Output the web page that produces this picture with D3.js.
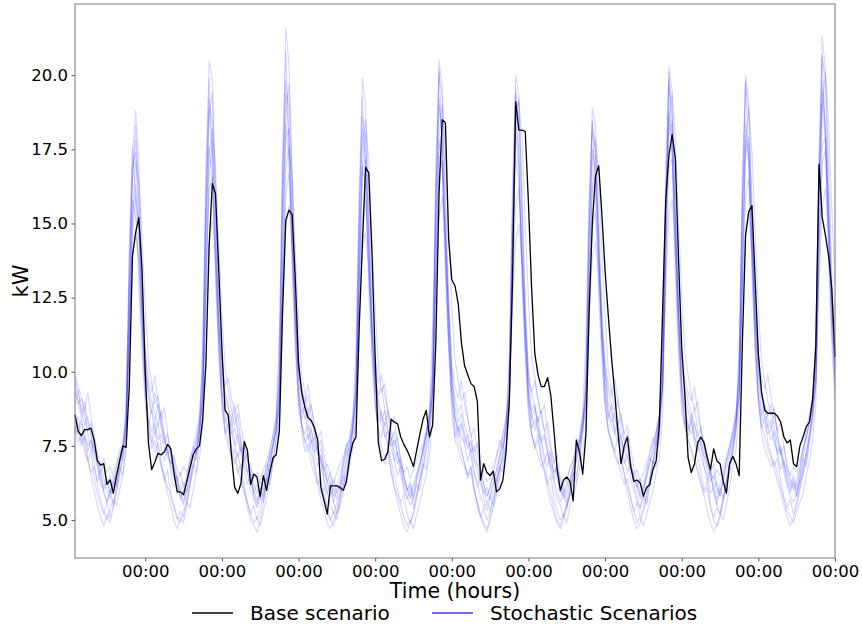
<!DOCTYPE html>
<html>
<head>
<meta charset="utf-8">
<script src="https://cdn.jsdelivr.net/npm/d3@7"></script>
<style>
  body { margin: 0; background: #fff; }
  svg { display: block; font-family: "DejaVu Sans", sans-serif; }
</style>
</head>
<body>
<svg id="chart" width="862" height="628"></svg>
<script>
// hours relative to the first midnight; one reading per hour
const hours = d3.range(-22, 217);
const dayTicks = d3.range(0, 217, 24);
const yTicks = [5, 7.5, 10, 12.5, 15, 17.5, 20];

const baseScenario = [
  8.55, 8.0, 7.85, 8.05, 8.05, 8.1, 7.7, 7.0, 6.85, 6.9, 6.2, 6.35, 5.9, 6.5, 7.0, 7.5, 7.45, 9.5, 13.9, 14.7, 15.2, 13.4,
  10.0, 7.6, 6.7, 6.95, 7.25, 7.2, 7.3, 7.55, 7.4, 6.6, 5.95, 5.95, 5.85, 6.3, 6.75, 7.2, 7.4, 7.5, 8.4, 10.3, 14.2, 16.35, 16.0, 13.5,
  10.8, 8.7, 8.55, 7.2, 6.1, 5.9, 6.25, 7.65, 7.35, 6.2, 6.55, 6.45, 5.8, 6.5, 6.0, 6.6, 7.1, 7.2, 8.0, 12.0, 15.1, 15.45, 15.3, 13.1,
  10.3, 9.3, 8.8, 8.45, 8.35, 8.1, 7.7, 6.1, 5.65, 5.2, 6.15, 6.15, 6.15, 6.1, 6.0, 6.3, 7.1, 7.6, 7.8, 11.5, 14.3, 16.9, 16.7, 14.0,
  10.5, 7.6, 7.0, 7.05, 7.3, 8.4, 8.3, 8.25, 7.8, 7.55, 7.35, 7.1, 6.8, 7.35, 7.9, 8.4, 8.7, 7.8, 8.2, 11.0, 16.0, 18.5, 18.4, 14.5,
  13.1, 12.9, 12.3, 11.0, 10.2, 9.9, 9.6, 9.5, 9.0, 6.35, 6.9, 6.6, 6.5, 6.65, 5.95, 6.05, 6.35, 7.3, 9.0, 13.0, 19.1, 18.15, 18.15, 18.1,
  15.7, 12.8, 10.6, 9.9, 9.5, 9.5, 9.8, 9.2, 8.0, 6.7, 6.0, 6.35, 6.45, 6.3, 5.65, 7.7, 7.3, 6.55, 7.9, 12.0, 15.0, 16.6, 16.95, 15.3,
  13.4, 11.9, 10.5, 9.3, 8.0, 6.9, 7.5, 7.8, 6.8, 6.3, 6.35, 6.25, 5.8, 6.1, 6.2, 6.7, 7.0, 8.2, 12.0, 15.8, 17.3, 18.0, 17.2, 13.8,
  10.8, 9.2, 7.1, 6.6, 6.9, 7.6, 7.8, 7.6, 7.1, 6.7, 7.4, 7.0, 6.9, 6.3, 5.9, 6.9, 7.15, 6.9, 6.5, 11.0, 14.6, 15.4, 15.6, 13.1,
  10.6, 9.3, 8.7, 8.6, 8.6, 8.6, 8.5, 8.3, 7.8, 7.6, 7.7, 6.9, 6.8, 7.5, 7.8, 8.15, 8.3, 9.1, 10.9, 17.0, 15.2, 14.6, 13.9, 12.8,
  10.5
];

const scenario1 = [
  8.9, 9.4, 8.7, 8.2, 8.5, 7.9, 7.3, 6.8, 6.2, 6.0, 5.6, 5.9, 6.3, 6.1, 6.8, 7.4, 8.2, 12.5, 16.4, 18.3, 16.1, 12.8,
  10.4, 9.1, 8.6, 9.3, 8.8, 8.1, 7.6, 7.9, 7.1, 6.5, 6.2, 5.8, 5.5, 6.0, 6.4, 6.9, 7.3, 7.9, 9.0, 14.1, 18.7, 19.4, 16.0, 12.4,
  10.1, 8.8, 8.4, 8.0, 7.5, 7.9, 7.2, 6.8, 6.6, 6.0, 5.7, 5.4, 5.8, 5.6, 6.2, 6.7, 7.0, 7.7, 8.8, 13.5, 17.9, 18.2, 15.1, 12.2,
  9.8, 8.6, 8.9, 8.2, 7.7, 7.3, 7.5, 6.9, 6.3, 5.9, 5.5, 5.2, 5.6, 5.9, 6.1, 6.6, 7.2, 7.5, 8.6, 13.0, 16.8, 17.2, 14.5, 11.5,
  9.7, 8.9, 8.3, 8.7, 8.0, 7.4, 7.0, 7.3, 6.5, 6.1, 5.8, 5.5, 5.7, 6.2, 6.0, 6.7, 7.4, 7.8, 9.1, 14.6, 19.2, 18.0, 14.8, 11.9,
  9.9, 8.5, 8.1, 7.8, 7.6, 7.9, 7.1, 6.6, 6.3, 5.8, 5.4, 5.6, 5.3, 5.9, 6.4, 6.8, 7.1, 7.6, 8.7, 13.8, 18.4, 17.5, 14.0, 11.3,
  9.5, 8.4, 8.8, 8.1, 7.5, 7.0, 7.3, 6.7, 6.2, 5.7, 5.5, 5.1, 5.5, 5.8, 6.3, 6.5, 7.0, 7.9, 8.9, 12.9, 16.1, 16.6, 14.2, 11.8,
  10.0, 8.7, 8.3, 8.6, 7.9, 7.5, 6.9, 7.2, 6.4, 6.0, 5.6, 5.4, 5.8, 5.5, 6.1, 6.9, 7.3, 7.7, 9.4, 14.9, 19.6, 18.5, 15.2, 12.0,
  9.6, 8.8, 8.2, 7.9, 8.3, 7.6, 7.1, 6.8, 6.5, 5.9, 6.1, 5.5, 5.2, 5.7, 6.2, 6.6, 7.2, 8.0, 9.2, 13.9, 17.6, 17.9, 14.9, 12.1,
  10.2, 8.9, 8.5, 8.1, 8.4, 7.7, 7.2, 7.4, 6.6, 6.1, 5.8, 5.6, 5.9, 6.3, 6.5, 7.0, 7.6, 8.3, 9.6, 15.2, 19.8, 18.1, 15.4, 12.6,
  10.3
];

const scenario2 = [
  8.2, 7.6, 7.9, 7.3, 7.0, 6.6, 6.8, 6.2, 5.7, 5.3, 5.0, 5.4, 5.7, 5.5, 6.0, 6.6, 7.3, 11.4, 15.2, 16.3, 14.7, 11.9,
  9.6, 8.1, 7.4, 7.7, 7.2, 6.8, 6.5, 6.1, 5.9, 5.5, 5.1, 4.9, 5.3, 5.6, 5.4, 6.0, 6.6, 7.1, 8.2, 12.6, 16.5, 17.8, 15.3, 11.7,
  9.2, 7.9, 7.5, 7.1, 7.4, 6.7, 6.3, 5.9, 5.6, 5.2, 4.9, 5.1, 4.8, 5.3, 5.8, 6.2, 6.9, 7.3, 8.5, 13.9, 18.6, 19.7, 16.4, 12.5,
  9.4, 8.0, 7.3, 7.6, 6.9, 6.5, 6.2, 6.4, 5.8, 5.3, 5.0, 4.8, 5.2, 5.5, 5.9, 6.3, 6.8, 7.4, 8.3, 12.8, 16.9, 18.1, 15.0, 11.6,
  9.1, 7.8, 7.2, 6.9, 7.3, 6.6, 6.1, 5.8, 5.5, 5.1, 4.8, 5.0, 4.7, 5.2, 5.6, 6.1, 6.5, 7.2, 8.4, 13.2, 17.3, 17.0, 14.1, 11.2,
  9.3, 7.7, 7.4, 7.0, 6.8, 6.4, 6.6, 6.0, 5.6, 5.2, 4.9, 4.7, 5.1, 5.4, 5.8, 6.4, 6.9, 7.5, 8.6, 14.0, 18.8, 19.1, 15.7, 12.0,
  9.0, 7.9, 7.5, 7.2, 6.8, 7.0, 6.3, 5.9, 5.4, 5.0, 4.8, 5.2, 4.9, 5.5, 5.7, 6.2, 6.7, 7.3, 8.1, 12.4, 16.2, 17.3, 14.6, 11.4,
  9.2, 8.1, 7.6, 7.3, 7.0, 6.6, 6.2, 6.4, 5.7, 5.3, 4.9, 5.1, 4.8, 5.2, 5.6, 6.0, 6.6, 7.1, 8.5, 13.6, 18.1, 18.4, 15.2, 11.8,
  9.4, 8.2, 7.7, 7.4, 7.1, 6.7, 6.3, 5.9, 6.1, 5.4, 5.0, 4.8, 5.2, 5.0, 5.5, 6.1, 6.8, 7.4, 8.7, 13.1, 17.4, 17.7, 14.8, 11.5,
  9.1, 7.9, 7.4, 7.1, 6.8, 7.0, 6.5, 6.1, 5.7, 5.3, 5.1, 4.9, 5.3, 5.6, 5.9, 6.5, 7.0, 7.7, 8.9, 13.7, 17.6, 17.9, 15.6, 12.3,
  9.8
];

const scenario3 = [
  9.6, 8.9, 9.1, 8.5, 8.0, 8.3, 7.7, 7.1, 6.6, 6.9, 6.2, 6.5, 6.0, 6.4, 7.0, 7.6, 8.6, 13.1, 17.3, 18.8, 17.0, 13.5,
  10.7, 9.3, 8.7, 8.3, 8.9, 8.2, 7.8, 7.2, 7.5, 6.8, 6.3, 6.6, 6.1, 6.5, 7.1, 7.4, 8.0, 8.6, 10.1, 15.8, 20.5, 19.8, 16.3, 12.9,
  10.5, 9.2, 8.8, 8.1, 8.6, 7.9, 7.4, 7.0, 6.6, 6.9, 6.2, 5.9, 6.3, 6.0, 6.6, 7.2, 7.5, 8.2, 9.7, 16.2, 21.6, 20.4, 16.8, 13.1,
  10.3, 9.0, 8.4, 8.8, 8.0, 7.6, 7.2, 7.4, 6.7, 6.3, 6.0, 6.4, 5.9, 6.2, 6.8, 7.3, 7.8, 8.5, 9.6, 14.9, 19.9, 19.0, 15.6, 12.3,
  10.0, 9.1, 8.5, 8.2, 8.7, 7.8, 7.3, 6.9, 7.1, 6.5, 6.1, 5.8, 6.2, 6.6, 6.9, 7.4, 7.9, 8.4, 9.8, 15.5, 20.5, 19.6, 16.1, 12.6,
  10.1, 8.8, 8.3, 8.6, 7.9, 7.5, 7.7, 7.0, 6.6, 6.2, 5.9, 6.1, 5.7, 6.3, 6.7, 7.2, 7.7, 8.1, 9.5, 15.1, 20.0, 19.3, 15.9, 12.4,
  9.9, 8.7, 8.9, 8.1, 7.7, 7.9, 7.2, 6.8, 6.4, 6.7, 6.0, 5.8, 6.1, 6.4, 6.8, 7.3, 7.6, 8.3, 9.3, 14.3, 18.9, 18.3, 15.3, 12.1,
  10.2, 9.0, 8.6, 8.0, 8.4, 7.7, 7.3, 7.6, 6.9, 6.4, 6.1, 5.7, 6.0, 6.5, 6.9, 7.5, 8.0, 8.6, 10.0, 15.6, 20.3, 19.5, 16.0, 12.7,
  10.4, 9.2, 8.7, 8.3, 8.8, 8.0, 7.5, 7.1, 6.7, 6.3, 6.5, 5.9, 6.2, 6.6, 7.0, 7.4, 7.8, 8.5, 9.9, 15.3, 20.0, 19.1, 15.8, 12.5,
  10.6, 9.3, 8.9, 8.4, 8.1, 8.6, 7.9, 7.3, 6.9, 6.5, 6.1, 6.3, 6.0, 6.4, 7.1, 7.7, 8.3, 8.9, 10.4, 16.6, 21.3, 20.2, 16.9, 13.4,
  10.9
];

const scenario4 = [
  9.8, 9.3, 8.6, 9.0, 8.3, 7.8, 7.4, 7.0, 6.5, 6.1, 6.4, 5.9, 6.2, 6.6, 7.1, 7.3, 8.0, 11.2, 14.6, 15.9, 14.8, 12.0,
  9.9, 9.5, 9.0, 8.6, 8.2, 8.7, 7.9, 7.3, 6.8, 6.4, 6.1, 5.8, 6.0, 6.3, 6.8, 7.2, 7.7, 8.3, 9.3, 13.2, 16.1, 16.6, 14.3, 11.6,
  9.7, 9.4, 8.8, 8.4, 8.9, 8.1, 7.6, 7.2, 6.7, 6.3, 5.9, 5.6, 5.9, 6.4, 6.8, 7.1, 7.6, 8.0, 9.0, 12.8, 15.9, 16.7, 14.6, 11.8,
  10.0, 9.5, 8.9, 9.2, 8.5, 7.9, 7.4, 7.1, 6.6, 6.2, 5.8, 6.1, 5.7, 6.1, 6.6, 7.0, 7.5, 8.1, 9.2, 12.6, 15.3, 15.8, 13.9, 11.4,
  9.8, 9.2, 9.5, 8.7, 8.1, 7.7, 8.0, 7.2, 6.8, 6.3, 6.0, 5.7, 6.1, 6.5, 6.9, 7.3, 7.8, 8.2, 9.4, 13.4, 16.7, 17.1, 14.7, 11.9,
  9.6, 9.1, 8.6, 8.9, 8.2, 7.8, 7.3, 7.5, 6.9, 6.4, 6.0, 5.6, 5.8, 6.2, 6.7, 7.1, 7.5, 8.0, 8.9, 12.9, 15.6, 16.2, 14.0, 11.5,
  9.7, 9.3, 8.8, 8.3, 8.7, 8.0, 7.5, 7.1, 6.6, 6.8, 6.1, 5.7, 5.9, 6.3, 6.7, 7.0, 7.6, 8.2, 9.1, 12.5, 14.8, 15.4, 13.6, 11.2,
  9.9, 9.4, 8.9, 8.5, 8.1, 8.6, 7.8, 7.3, 6.9, 6.4, 6.2, 5.8, 6.1, 6.4, 6.9, 7.3, 7.9, 8.4, 9.5, 13.6, 16.9, 17.2, 14.9, 12.1,
  9.8, 9.5, 9.0, 8.6, 8.2, 7.8, 8.1, 7.4, 6.9, 6.5, 6.0, 5.7, 6.0, 6.3, 6.7, 7.2, 7.6, 8.1, 9.2, 13.0, 15.9, 16.5, 14.4, 11.7,
  9.9, 9.3, 8.8, 8.5, 8.9, 8.1, 7.6, 7.2, 6.8, 6.3, 6.0, 6.2, 5.8, 6.3, 6.8, 7.3, 7.9, 8.5, 9.6, 13.9, 17.0, 17.5, 15.1, 12.4,
  10.1
];

const scenario5 = [
  8.4, 8.0, 7.5, 7.8, 7.1, 6.5, 6.0, 5.5, 5.1, 4.8, 5.2, 4.9, 5.4, 5.9, 6.5, 7.2, 9.0, 13.8, 16.9, 17.4, 14.9, 11.5,
  9.2, 8.3, 7.8, 7.3, 7.6, 7.0, 6.4, 5.9, 5.5, 5.0, 4.7, 5.1, 4.9, 5.5, 6.1, 6.7, 7.4, 8.4, 11.0, 16.0, 18.9, 17.6, 14.1, 11.0,
  9.0, 8.1, 7.7, 7.2, 6.9, 7.3, 6.6, 6.0, 5.4, 5.0, 4.8, 4.6, 5.0, 5.6, 6.2, 6.9, 7.6, 8.6, 11.3, 16.7, 19.4, 17.9, 14.4, 11.2,
  9.1, 8.2, 7.6, 7.9, 7.3, 6.8, 6.2, 5.7, 5.3, 4.9, 4.7, 5.0, 5.3, 5.8, 6.3, 7.0, 7.7, 8.5, 10.8, 15.6, 18.2, 17.0, 13.8, 10.9,
  8.9, 8.0, 7.5, 7.1, 7.4, 6.7, 6.1, 5.6, 5.2, 4.8, 4.6, 4.9, 5.2, 5.7, 6.4, 7.1, 7.8, 8.7, 11.5, 16.3, 19.0, 17.8, 14.3, 11.1,
  9.0, 8.1, 7.6, 7.3, 6.9, 6.5, 6.8, 6.1, 5.5, 5.1, 4.8, 4.6, 5.0, 5.5, 6.0, 6.6, 7.3, 8.3, 10.6, 15.4, 18.0, 16.9, 13.6, 10.8,
  8.8, 7.9, 7.4, 7.7, 7.1, 6.6, 6.0, 5.6, 5.2, 4.9, 4.7, 5.0, 5.4, 5.9, 6.5, 7.1, 7.7, 8.6, 11.1, 15.8, 18.5, 17.4, 14.0, 11.0,
  8.9, 8.0, 7.6, 7.2, 6.9, 7.2, 6.5, 5.9, 5.4, 5.0, 4.7, 4.9, 5.3, 5.8, 6.4, 7.0, 7.6, 8.5, 11.2, 16.1, 18.8, 17.7, 14.2, 11.1,
  9.0, 8.1, 7.7, 7.3, 7.0, 6.6, 6.2, 5.8, 5.3, 4.9, 4.6, 4.8, 5.1, 5.6, 6.3, 6.9, 7.5, 8.4, 10.9, 15.7, 18.4, 17.2, 13.9, 10.9,
  9.1, 8.2, 7.8, 7.4, 7.1, 6.7, 6.3, 5.9, 5.5, 5.1, 4.8, 5.1, 5.5, 6.0, 6.6, 7.2, 7.9, 8.8, 11.4, 16.4, 19.5, 18.3, 14.7, 11.4,
  9.4
];

const scenario6 = [
  9.3, 9.0, 8.4, 8.8, 7.9, 7.3, 7.7, 6.9, 6.4, 6.0, 6.3, 5.9, 6.5, 6.2, 6.9, 7.5, 8.1, 10.9, 15.3, 17.1, 16.4, 14.6,
  12.2, 10.3, 9.6, 8.9, 9.2, 8.4, 7.7, 7.3, 6.9, 7.1, 6.4, 6.0, 6.3, 5.9, 6.6, 7.2, 7.0, 8.0, 9.0, 13.0, 17.4, 18.2, 16.9, 14.4,
  12.0, 10.1, 9.4, 8.7, 8.2, 8.6, 7.6, 7.0, 7.3, 6.5, 5.9, 6.2, 5.7, 6.3, 6.9, 6.6, 7.5, 8.0, 8.9, 12.7, 16.8, 17.6, 16.5, 14.0,
  11.8, 9.9, 9.3, 8.5, 8.9, 8.0, 7.4, 7.7, 6.8, 6.3, 6.6, 5.8, 6.2, 6.0, 6.9, 7.4, 7.1, 8.3, 9.1, 13.3, 17.6, 18.5, 17.1, 14.5,
  12.1, 10.2, 9.3, 9.6, 8.6, 8.1, 7.5, 7.8, 6.9, 6.4, 6.0, 6.3, 5.8, 6.4, 6.8, 7.4, 7.9, 8.4, 9.2, 13.5, 17.9, 19.0, 17.5, 14.8,
  12.3, 10.4, 9.7, 9.0, 9.3, 8.4, 7.9, 7.3, 7.6, 6.7, 6.2, 5.8, 6.1, 6.6, 6.3, 7.1, 7.9, 8.5, 9.3, 13.7, 18.3, 19.2, 17.8, 15.0,
  12.4, 10.5, 9.8, 9.1, 8.6, 8.9, 7.9, 7.4, 6.9, 7.2, 6.4, 5.9, 6.2, 6.8, 7.0, 7.6, 7.3, 8.4, 9.2, 13.1, 17.0, 17.9, 16.6, 14.1,
  11.9, 10.0, 9.4, 8.7, 9.1, 8.2, 7.6, 7.9, 7.0, 6.5, 6.1, 6.4, 5.9, 6.6, 7.1, 6.9, 7.8, 8.6, 9.4, 13.8, 18.6, 19.4, 17.9, 15.1,
  12.5, 10.6, 9.9, 9.2, 8.7, 9.0, 8.0, 7.5, 7.1, 6.6, 6.9, 6.1, 5.8, 6.4, 6.9, 7.3, 7.9, 8.5, 9.3, 13.4, 17.8, 18.9, 17.4, 14.7,
  12.2, 10.3, 9.7, 9.0, 8.5, 8.8, 7.8, 7.2, 7.5, 6.7, 6.2, 6.5, 6.1, 6.7, 7.4, 7.8, 8.4, 9.0, 9.8, 14.2, 18.9, 20.1, 18.4, 15.5,
  12.9
];

const scenario7 = [
  7.9, 8.5, 7.6, 8.1, 7.3, 7.7, 6.9, 6.3, 6.7, 5.9, 5.6, 6.0, 5.5, 6.2, 6.8, 6.5, 7.6, 12.1, 15.8, 15.2, 13.6, 11.1,
  9.5, 8.2, 8.7, 7.8, 8.3, 7.4, 7.0, 7.5, 6.6, 6.1, 6.5, 5.7, 6.0, 5.6, 6.3, 6.9, 6.6, 7.7, 9.4, 14.8, 17.6, 16.5, 13.5, 10.9,
  9.3, 8.6, 7.9, 8.4, 7.6, 7.1, 7.5, 6.7, 6.2, 6.6, 5.8, 5.5, 6.0, 5.7, 6.4, 6.2, 7.0, 7.8, 9.6, 15.3, 18.4, 17.1, 13.9, 11.1,
  9.0, 8.4, 8.8, 7.7, 8.1, 7.3, 6.8, 7.2, 6.3, 5.9, 6.3, 5.6, 5.2, 5.8, 6.5, 6.2, 7.1, 7.9, 9.2, 14.4, 16.9, 16.3, 13.2, 10.7,
  9.4, 8.3, 8.7, 7.9, 7.4, 7.8, 7.0, 6.5, 6.8, 6.0, 5.7, 6.1, 5.4, 5.9, 6.4, 6.9, 6.7, 7.8, 9.5, 15.0, 17.8, 16.8, 13.7, 11.0,
  9.2, 8.5, 7.8, 8.2, 7.5, 7.0, 7.4, 6.6, 6.1, 6.5, 5.7, 5.3, 5.8, 5.5, 6.2, 6.8, 6.6, 7.6, 9.1, 14.2, 17.2, 16.4, 13.4, 10.8,
  9.1, 8.6, 8.0, 8.5, 7.7, 7.2, 6.8, 7.3, 6.4, 6.0, 5.6, 6.0, 5.4, 5.9, 6.6, 6.3, 7.2, 8.0, 9.4, 14.6, 17.5, 16.7, 13.6, 10.9,
  9.3, 8.4, 8.9, 8.0, 7.6, 7.9, 7.1, 6.6, 6.9, 6.2, 5.8, 5.4, 5.9, 5.6, 6.3, 7.0, 6.8, 7.9, 9.7, 15.4, 18.6, 17.4, 14.0, 11.2,
  9.5, 8.7, 8.1, 8.6, 7.8, 7.3, 7.6, 6.8, 6.3, 6.7, 5.9, 5.5, 6.1, 5.7, 6.4, 6.9, 7.3, 8.1, 9.8, 15.1, 18.0, 17.0, 13.8, 11.0,
  9.2, 8.5, 8.9, 8.1, 7.7, 8.0, 7.2, 6.7, 7.0, 6.3, 5.9, 6.4, 5.8, 6.5, 7.1, 6.8, 7.7, 8.6, 10.2, 15.9, 19.1, 17.8, 14.3, 11.5,
  9.7
];

const scenario8 = [
  8.6, 8.1, 8.4, 7.5, 7.0, 7.3, 6.4, 5.9, 5.5, 5.2, 5.6, 5.1, 5.5, 6.0, 6.6, 7.1, 8.3, 14.2, 17.6, 15.8, 12.9, 10.6,
  8.9, 8.0, 7.6, 8.2, 7.4, 6.9, 6.3, 6.7, 5.8, 5.4, 5.0, 5.3, 5.1, 5.7, 6.2, 6.8, 7.2, 8.0, 10.4, 16.9, 19.9, 17.0, 13.1, 10.5,
  8.8, 7.9, 8.3, 7.5, 7.0, 6.6, 6.9, 6.1, 5.6, 5.2, 5.5, 5.0, 5.4, 5.9, 6.4, 6.9, 7.4, 8.1, 10.7, 17.4, 20.8, 17.6, 13.5, 10.8,
  8.7, 8.2, 7.7, 7.3, 7.7, 6.9, 6.4, 5.9, 6.1, 5.4, 5.0, 5.3, 5.0, 5.6, 6.1, 6.7, 7.3, 8.0, 10.1, 16.2, 19.3, 16.6, 12.8, 10.4,
  8.9, 8.1, 7.8, 8.3, 7.5, 7.0, 6.5, 6.0, 5.6, 5.9, 5.2, 4.9, 5.3, 5.8, 6.3, 6.8, 7.5, 8.2, 10.6, 17.0, 20.2, 17.3, 13.3, 10.7,
  8.6, 7.8, 8.2, 7.4, 6.9, 6.5, 6.8, 6.0, 5.5, 5.1, 5.4, 5.0, 5.3, 5.7, 6.2, 6.7, 7.3, 8.0, 10.3, 16.4, 19.6, 16.8, 13.0, 10.5,
  8.5, 7.9, 7.5, 7.9, 7.1, 6.7, 6.2, 6.5, 5.7, 5.3, 5.0, 5.2, 5.5, 6.0, 6.5, 7.0, 7.4, 8.1, 10.0, 15.6, 18.4, 16.0, 12.6, 10.3,
  8.8, 8.0, 7.7, 7.3, 7.8, 7.0, 6.6, 6.1, 5.8, 5.3, 5.6, 5.1, 5.4, 5.9, 6.4, 6.9, 7.5, 8.3, 10.8, 17.1, 20.1, 17.2, 13.2, 10.6,
  8.7, 8.2, 7.8, 8.4, 7.6, 7.1, 6.6, 6.0, 6.3, 5.5, 5.1, 5.4, 5.2, 5.8, 6.3, 6.8, 7.4, 8.2, 10.5, 16.8, 19.8, 17.1, 13.2, 10.6,
  8.9, 8.1, 8.5, 7.6, 7.2, 6.8, 7.1, 6.3, 5.8, 5.4, 5.7, 5.2, 5.6, 6.1, 6.7, 7.2, 7.8, 8.6, 11.0, 17.5, 20.7, 17.9, 13.7, 10.9,
  9.0
];

const scenario9 = [
  8.1, 7.9, 8.3, 7.8, 7.5, 7.7, 7.2, 7.0, 6.8, 7.1, 6.6, 6.8, 6.5, 6.9, 7.2, 7.6, 8.4, 11.5, 13.9, 14.6, 13.8, 11.8,
  9.6, 8.4, 8.0, 8.3, 7.7, 7.9, 7.4, 7.1, 6.9, 7.2, 6.7, 6.5, 6.8, 6.6, 7.0, 7.3, 7.6, 8.2, 9.1, 12.3, 14.5, 15.1, 13.9, 11.5,
  9.4, 8.3, 8.5, 7.9, 8.1, 7.6, 7.3, 7.5, 7.0, 6.7, 6.4, 6.6, 6.3, 6.7, 7.0, 7.4, 7.8, 8.3, 9.2, 12.6, 14.9, 15.6, 14.2, 11.7,
  9.5, 8.2, 7.9, 8.2, 7.6, 7.8, 7.2, 7.0, 6.7, 6.9, 6.5, 6.2, 6.6, 6.9, 7.1, 7.5, 7.7, 8.1, 8.8, 11.9, 14.1, 14.7, 13.5, 11.3,
  9.7, 8.5, 8.2, 7.8, 8.0, 7.5, 7.7, 7.2, 6.9, 6.6, 6.8, 6.4, 6.7, 7.0, 7.3, 7.6, 8.0, 8.5, 9.3, 12.8, 15.2, 15.9, 14.4, 11.9,
  9.5, 8.4, 8.0, 8.3, 7.8, 7.4, 7.6, 7.1, 6.8, 7.0, 6.6, 6.3, 6.5, 6.8, 7.2, 7.5, 7.9, 8.3, 9.0, 12.2, 14.4, 15.0, 13.7, 11.4,
  9.3, 8.1, 8.4, 7.9, 7.6, 7.8, 7.3, 6.9, 6.6, 6.8, 6.3, 6.1, 6.4, 6.7, 7.0, 7.4, 7.7, 8.1, 8.9, 11.8, 13.9, 14.4, 13.2, 11.1,
  9.6, 8.6, 8.2, 7.9, 8.2, 7.7, 7.4, 7.1, 6.8, 6.5, 6.7, 6.3, 6.6, 6.9, 7.3, 7.6, 8.0, 8.5, 9.4, 12.9, 15.3, 15.8, 14.3, 11.8,
  9.4, 8.3, 8.0, 8.3, 7.8, 7.5, 7.7, 7.2, 6.9, 6.6, 6.4, 6.7, 6.5, 6.8, 7.2, 7.5, 7.9, 8.4, 9.2, 12.5, 14.8, 15.4, 14.0, 11.6,
  9.7, 8.5, 8.2, 7.9, 8.1, 7.6, 7.3, 7.5, 7.0, 6.7, 6.5, 6.8, 6.6, 7.0, 7.4, 7.8, 8.3, 8.7, 9.6, 13.1, 15.5, 16.2, 14.6, 12.0,
  10.0
];

const scenario10 = [
  9.9, 9.5, 9.2, 8.7, 9.3, 8.5, 7.9, 7.3, 6.9, 6.4, 6.0, 5.7, 6.2, 6.8, 7.4, 7.0, 7.9, 12.9, 16.6, 17.8, 15.5, 12.3,
  10.6, 9.7, 9.3, 9.9, 9.0, 8.4, 8.8, 7.9, 7.3, 6.8, 6.3, 6.0, 5.6, 6.2, 6.9, 7.5, 7.2, 8.3, 9.8, 15.2, 19.2, 18.4, 14.8, 11.8,
  10.3, 9.5, 9.8, 9.1, 8.6, 8.9, 8.1, 7.5, 7.0, 6.5, 6.0, 5.7, 6.1, 5.8, 6.6, 7.3, 7.9, 8.4, 9.9, 15.6, 19.8, 18.9, 15.2, 12.0,
  10.1, 9.4, 9.0, 9.6, 8.8, 8.3, 7.7, 8.0, 7.2, 6.6, 6.1, 5.6, 6.0, 6.5, 7.0, 7.6, 7.3, 8.2, 9.5, 14.7, 18.6, 17.9, 14.4, 11.6,
  10.4, 9.6, 9.9, 9.2, 8.7, 8.2, 8.5, 7.6, 7.1, 6.5, 6.0, 6.2, 5.7, 6.3, 6.9, 7.4, 8.0, 8.6, 10.0, 15.8, 20.1, 19.2, 15.4, 12.2,
  10.2, 9.5, 9.1, 9.7, 8.9, 8.4, 7.8, 8.1, 7.3, 6.7, 6.2, 5.8, 6.1, 6.6, 7.1, 7.7, 7.4, 8.3, 9.7, 15.0, 19.4, 18.5, 14.9, 11.9,
  10.0, 9.3, 9.7, 9.0, 8.5, 8.0, 8.3, 7.5, 7.0, 6.4, 5.9, 6.1, 5.6, 6.2, 6.8, 7.3, 7.9, 8.5, 9.6, 14.5, 18.1, 17.6, 14.3, 11.5,
  10.3, 9.6, 9.2, 9.8, 9.0, 8.5, 7.9, 8.2, 7.4, 6.8, 6.3, 5.9, 6.2, 6.7, 7.2, 7.8, 7.5, 8.4, 9.9, 15.5, 19.9, 18.8, 15.1, 12.0,
  10.5, 9.7, 9.3, 9.0, 9.5, 8.6, 8.0, 7.7, 7.2, 6.6, 6.1, 6.3, 5.8, 6.4, 7.0, 7.5, 8.1, 8.7, 10.1, 15.9, 19.7, 18.7, 15.0, 11.9,
  10.4, 9.8, 9.4, 9.9, 9.1, 8.6, 8.0, 8.3, 7.5, 6.9, 6.4, 6.0, 6.3, 6.8, 7.4, 8.0, 8.6, 9.1, 10.5, 16.4, 20.6, 19.9, 15.8, 12.5,
  10.6
];

const stochasticScenarios = [
  scenario1, scenario2, scenario3, scenario4, scenario5,
  scenario6, scenario7, scenario8, scenario9, scenario10
];

const legendLabels = ['Base scenario', 'Stochastic Scenarios'];
const legendColors = ['#000000', '#3b3bff'];

const svgWidth = 862;
const svgHeight = 628;
const margin = { top: 4, right: 27, bottom: 70, left: 75 };

const svg = d3.select('#chart');

const x = d3
  .scaleLinear()
  .domain([hours[0], hours[hours.length - 1]])
  .range([margin.left, svgWidth - margin.right]);
const y = d3
  .scaleLinear()
  .domain([3.72, 22.4])
  .range([svgHeight - margin.bottom, margin.top]);

const line = d3
  .line()
  .x((d, i) => x(hours[i]))
  .y((d) => y(d));

// stochastic scenarios, faint blue
svg
  .append('g')
  .selectAll('path')
  .data(stochasticScenarios)
  .join('path')
  .attr('fill', 'none')
  .attr('stroke', '#0000ff')
  .attr('stroke-opacity', 0.16)
  .attr('stroke-width', 1.1)
  .attr('stroke-linejoin', 'round')
  .attr('d', line);

// base scenario
svg
  .append('path')
  .datum(baseScenario)
  .attr('fill', 'none')
  .attr('stroke', '#000')
  .attr('stroke-width', 1.3)
  .attr('stroke-linejoin', 'round')
  .attr('d', line);

// axes
const xAxis = d3
  .axisBottom(x)
  .tickValues(dayTicks)
  .tickFormat(() => '00:00')
  .tickSizeInner(3.5)
  .tickSizeOuter(0)
  .tickPadding(3.5);
const yAxis = d3
  .axisLeft(y)
  .tickValues(yTicks)
  .tickFormat(d3.format('.1f'))
  .tickSizeInner(3.5)
  .tickSizeOuter(0)
  .tickPadding(3.5);

const gx = svg
  .append('g')
  .attr('transform', `translate(0, ${svgHeight - margin.bottom})`)
  .call(xAxis);
const gy = svg.append('g').attr('transform', `translate(${margin.left}, 0)`).call(yAxis);

[gx, gy].forEach((g) => {
  g.select('.domain').remove();
  g.selectAll('.tick line').attr('stroke', '#555');
  g.selectAll('.tick text').attr('fill', '#000').style('font-size', '16.5px').style('font-family', 'DejaVu Sans');
});

// frame
svg
  .append('rect')
  .attr('x', margin.left)
  .attr('y', margin.top)
  .attr('width', svgWidth - margin.left - margin.right)
  .attr('height', svgHeight - margin.top - margin.bottom)
  .attr('fill', 'none')
  .attr('stroke', '#777')
  .attr('stroke-width', 1);

// axis titles
svg
  .append('text')
  .attr('x', (margin.left + svgWidth - margin.right) / 2)
  .attr('y', 598)
  .attr('text-anchor', 'middle')
  .style('font-size', '20.5px')
  .text('Time (hours)');

svg
  .append('text')
  .attr('transform', 'rotate(-90)')
  .attr('x', -(margin.top + svgHeight - margin.bottom) / 2)
  .attr('y', 28)
  .attr('text-anchor', 'middle')
  .style('font-size', '21px')
  .text('kW');

// legend
const legend = svg.append('g').attr('transform', 'translate(192, 613)');
const legendX = [0, 240];
legendLabels.forEach((label, i) => {
  const item = legend.append('g').attr('transform', `translate(${legendX[i]}, 0)`);
  item
    .append('line')
    .attr('x1', 0)
    .attr('x2', 41)
    .attr('y1', 0)
    .attr('y2', 0)
    .attr('stroke', legendColors[i])
    .attr('stroke-width', 1.4);
  item
    .append('text')
    .attr('x', 58)
    .attr('y', 7)
    .style('font-size', '20px')
    .text(label);
});
</script>
</body>
</html>
